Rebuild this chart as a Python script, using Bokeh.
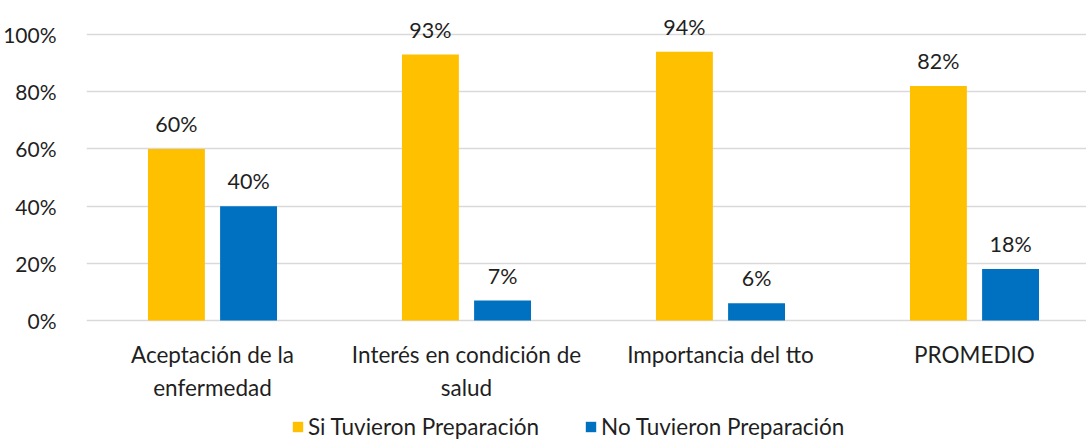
from bokeh.plotting import figure
from bokeh.models import Range1d, FixedTicker, Legend, LegendItem, ColumnDataSource
from bokeh.core.properties import value
from bokeh.embed import file_html
from bokeh.resources import INLINE

categories = ["Aceptación de la\nenfermedad", "Interés en condición de\nsalud", "Importancia del tto", "PROMEDIO"]
si_values = [60, 93, 94, 82]
no_values = [40, 7, 6, 18]
series_names = ["Si Tuvieron Preparación", "No Tuvieron Preparación"]
y_ticks = [0, 20, 40, 60, 80, 100]

FONT = "Lato"
TEXT_COLOR = "#1f1f1f"
YELLOW = "#FFC000"
BLUE = "#0070C0"

xs = list(range(len(categories)))
off = 0.142
bw = 0.224

p = figure(width=1086, height=443, output_backend="svg", toolbar_location=None,
           x_range=Range1d(-0.496, 3.441), y_range=Range1d(-43.0, 111.9),
           x_axis_location=None,
           min_border_left=86, min_border_right=0, min_border_top=0, min_border_bottom=0)
p.outline_line_color = None
p.background_fill_color = "white"
p.border_fill_color = "white"

src_si = ColumnDataSource(dict(x=[x - off for x in xs], top=si_values, lab=[f"{v}%" for v in si_values]))
src_no = ColumnDataSource(dict(x=[x + off for x in xs], top=no_values, lab=[f"{v}%" for v in no_values]))
src_cat = ColumnDataSource(dict(x=xs, y=[0] * len(xs), lab=categories))

r_si = p.vbar(x="x", top="top", width=bw, bottom=0, source=src_si, fill_color=YELLOW, line_color=None)
r_no = p.vbar(x="x", top="top", width=bw, bottom=0, source=src_no, fill_color=BLUE, line_color=None)

for src in (src_si, src_no):
    p.text(x="x", y="top", text="lab", source=src, text_align="center", text_baseline="alphabetic",
           y_offset=-25, text_font=value(FONT), text_font_size="21.5px", text_color=TEXT_COLOR)

# category labels under the baseline
p.text(x="x", y="y", text="lab", source=src_cat, text_align="center", text_baseline="top",
       y_offset=20, text_font=value(FONT), text_font_size="22.5px", text_color=TEXT_COLOR,
       text_line_height=1.24)

p.yaxis.ticker = FixedTicker(ticks=y_ticks)
p.yaxis.major_label_overrides = {t: f"{t}%" for t in y_ticks}
p.yaxis.axis_line_color = None
p.yaxis.major_tick_line_color = None
p.yaxis.minor_tick_line_color = None
p.yaxis.major_label_standoff = 24
p.yaxis.major_label_text_font = FONT
p.yaxis.major_label_text_font_size = "21px"
p.yaxis.major_label_text_color = TEXT_COLOR

p.xgrid.grid_line_color = None
p.ygrid.ticker = FixedTicker(ticks=y_ticks)
p.ygrid.grid_line_color = "#d9d9d9"
p.ygrid.grid_line_width = 1.5

legend = Legend(items=[LegendItem(label=series_names[0], renderers=[r_si]),
                       LegendItem(label=series_names[1], renderers=[r_no])],
                orientation="horizontal", location=(205, 3),
                glyph_width=13, glyph_height=13, label_standoff=4, spacing=45,
                padding=0, margin=0, border_line_color=None, background_fill_alpha=0,
                label_text_font=FONT, label_text_font_size="22.5px", label_text_color=TEXT_COLOR)
p.add_layout(legend)

open("out.html", "w").write(file_html(p, INLINE))
